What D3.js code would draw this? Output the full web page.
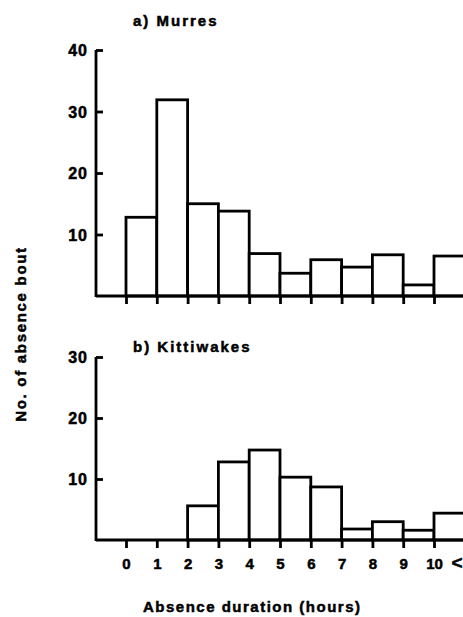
<!DOCTYPE html>
<html>
<head>
<meta charset="utf-8">
<script src="https://cdn.jsdelivr.net/npm/d3@7"></script>
<style>
  html, body { margin: 0; padding: 0; background: #fff; }
  svg { display: block; }
  text { font-family: "Liberation Sans", Arial, sans-serif; font-weight: bold; fill: #000; stroke: #000; stroke-width: 0.5px; }
</style>
</head>
<body>
<div id="chart"></div>
<script>
// absence duration bins (hours), last bin is "10 <"
const bins = [0, 1, 2, 3, 4, 5, 6, 7, 8, 9, 10];
const tickLabels = ["0", "1", "2", "3", "4", "5", "6", "7", "8", "9", "10"];
const murres = [12.8, 31.9, 15.0, 13.8, 6.9, 3.7, 5.9, 4.7, 6.7, 1.8, 6.5];
const kittiwakes = [0, 0, 5.6, 12.8, 14.75, 10.3, 8.7, 1.8, 3.0, 1.6, 4.4];
const murresTicks = [10, 20, 30, 40];
const kittiwakeTicks = [10, 20, 30];

const width = 463, height = 617;
const axisX = 96;
const stroke = 2.8;

const svg = d3.select("#chart").append("svg")
  .attr("width", width)
  .attr("height", height);

// shared x scale, one unit per hour
const x = d3.scaleLinear()
  .domain([0, 10])
  .range([126, 434]);

const panels = [
  { title: "a) Murres", values: murres, ticks: murresTicks, max: 40, range: [296, 50], titleY: 26, labels: false },
  { title: "b) Kittiwakes", values: kittiwakes, ticks: kittiwakeTicks, max: 30, range: [540, 357], titleY: 352, labels: true }
];

panels.forEach(function(p) {
  const y = d3.scaleLinear().domain([0, p.max]).range(p.range);
  const g = svg.append("g");

  // bars
  g.selectAll("rect")
    .data(bins.map((b, i) => ({ bin: b, value: p.values[i] })).filter(d => d.value > 0))
    .enter().append("rect")
      .attr("x", d => x(d.bin))
      .attr("width", d => x(d.bin + 1) - x(d.bin))
      .attr("y", d => y(d.value))
      .attr("height", d => y(0) - y(d.value))
      .attr("fill", "#fff")
      .attr("stroke", "#000")
      .attr("stroke-width", stroke);

  // baseline running to the right edge
  g.append("line")
    .attr("x1", axisX).attr("x2", width + 5)
    .attr("y1", y(0)).attr("y2", y(0))
    .attr("stroke", "#000")
    .attr("stroke-width", stroke);

  // y axis, ticks pointing inward
  const yAxis = d3.axisLeft(y)
    .tickValues(p.ticks)
    .tickSizeInner(-7)
    .tickSizeOuter(0)
    .tickPadding(8);

  const ya = g.append("g")
    .attr("transform", "translate(" + axisX + ",0)")
    .call(yAxis);
  ya.select(".domain")
    .attr("d", "M0," + (y(0) + 1) + "V" + y(p.max))
    .attr("stroke-width", stroke);
  ya.selectAll(".tick line").attr("stroke-width", stroke);
  ya.selectAll(".tick text")
    .attr("font-size", 16)
    .attr("font-family", null)
    .attr("fill", "#000")
    .style("letter-spacing", "1px")
    .attr("dy", "0.36em");

  // x axis ticks below the baseline
  const xAxis = d3.axisBottom(x)
    .tickValues(bins)
    .tickSizeInner(8)
    .tickSizeOuter(0)
    .tickPadding(10)
    .tickFormat(d => p.labels ? tickLabels[d] : "");

  const xa = g.append("g")
    .attr("transform", "translate(0," + y(0) + ")")
    .call(xAxis);
  xa.select(".domain").remove();
  xa.selectAll(".tick line").attr("stroke-width", stroke);
  xa.selectAll(".tick text")
    .attr("font-size", 15)
    .attr("fill", "#000")
    .attr("font-family", null);

  if (p.labels) {
    xa.append("text")
      .attr("x", x(10.75))
      .attr("y", 29)
      .attr("text-anchor", "middle")
      .attr("font-size", 19)
      .text("<");
  }

  // panel title
  svg.append("text")
    .attr("x", 133)
    .attr("y", p.titleY)
    .attr("font-size", 15)
    .style("letter-spacing", "2px")
    .text(p.title);
});

// axis titles
svg.append("text")
  .attr("x", 143)
  .attr("y", 612)
  .attr("font-size", 15)
  .style("letter-spacing", "1.5px")
  .text("Absence duration (hours)");

svg.append("text")
  .attr("transform", "translate(26,334) rotate(-90)")
  .attr("text-anchor", "middle")
  .attr("font-size", 15)
  .style("letter-spacing", "1.7px")
  .text("No. of absence bout");
</script>
</body>
</html>
